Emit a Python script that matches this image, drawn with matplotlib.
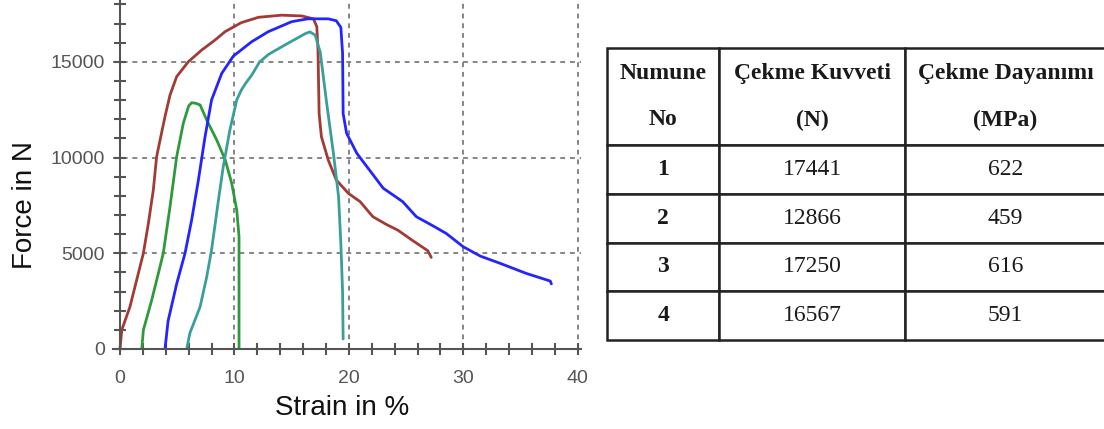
import matplotlib
matplotlib.use("Agg")
import matplotlib.pyplot as plt
from matplotlib.ticker import MultipleLocator

# Force-strain curves (strain %, force N)
s1_strain = [0, 0.15, 0.87, 1.6, 2.04, 2.48, 2.91, 3.2, 3.5, 3.93, 4.37, 4.95, 5.97, 7.14, 8.3, 9.18,
             10.6, 12.1, 14.1, 15.9, 16.9, 17.2, 17.3, 17.4, 17.6, 18.2, 18.9, 19.96, 20.98, 22.1,
             23.3, 24.3, 25.6, 26.9, 27.2]
s1_force = [0, 990, 2210, 3950, 5000, 6570, 8310, 10050, 10920, 12140, 13270, 14230, 15010, 15620, 16140,
            16580, 17050, 17330, 17441, 17400, 17250, 16840, 15620, 12300, 11090, 9870, 8830, 8130, 7700,
            6910, 6500, 6200, 5655, 5133, 4785]

s2_strain = [1.9, 2.04, 2.77, 3.35, 3.78, 4.37, 4.95, 5.53, 6.0, 6.26, 6.6, 7.0, 7.58, 8.45, 9.2, 9.76,
             10.2, 10.4, 10.4]
s2_force = [0, 990, 2560, 3950, 5000, 7440, 10050, 11790, 12700, 12866, 12840, 12750, 11960, 10920, 9870,
            8660, 7260, 5870, 0]

s3_strain = [3.93, 4.2, 4.95, 5.68, 6.26, 6.85, 7.43, 8.0, 8.89, 9.9, 11.5, 12.96, 15.0, 16.4, 18.2,
             18.9, 19.3, 19.45, 19.5, 19.8, 20.7, 21.8, 23.0, 24.7, 25.9, 27.3, 28.5, 30.0, 31.5, 33.2,
             35.5, 37.6, 37.7]
s3_force = [0, 1460, 3400, 5000, 6740, 8830, 11090, 13010, 14400, 15300, 16050, 16580, 17100, 17250,
            17250, 17150, 16800, 15450, 12300, 11270, 10220, 9350, 8400, 7700, 6910, 6450, 6040, 5340,
            4850, 4480, 3950, 3550, 3400]

s4_strain = [5.83, 6.1, 7.0, 7.58, 8.0, 8.6, 9.02, 9.6, 10.2, 10.6, 11.0, 11.5, 12.2, 13.0, 14.4, 16.2,
             16.6, 17.05, 17.5, 18.06, 18.65, 19.1, 19.3, 19.45, 19.5]
s4_force = [0, 820, 2210, 3780, 5170, 7780, 9520, 11440, 13010, 13530, 13900, 14300, 15000, 15400, 15880,
            16480, 16567, 16400, 15500, 12840, 10220, 7960, 5500, 3000, 522]

curve_colors = ["#a23a35", "#2f9a3c", "#2424ff", "#3a9e9a"]

# Table contents
col_labels = ["Numune\nNo", "Çekme Kuvveti\n(N)", "Çekme Dayanımı\n(MPa)"]
sample_no = ["1", "2", "3", "4"]
tensile_force = ["17441", "12866", "17250", "16567"]
tensile_strength = ["622", "459", "616", "591"]

fig = plt.figure(figsize=(11.04, 4.29), dpi=100)

# ---- chart ----
ax = fig.add_axes([0.1025, 0.1865, 0.4239, 0.812])
curves = [(s1_strain, s1_force), (s2_strain, s2_force), (s3_strain, s3_force), (s4_strain, s4_force)]
for (xs, ys), c in zip(curves, curve_colors):
    ax.plot(xs, ys, color=c, lw=2.0, solid_joinstyle="round", solid_capstyle="round", zorder=3)

ax.set_xlim(-0.6, 40.3)
ax.set_ylim(0, 18200)
ax.spines["left"].set_position(("data", 0))
ax.spines["top"].set_visible(False)
ax.spines["right"].set_visible(False)
for side in ["left", "bottom"]:
    ax.spines[side].set_color("#555555")
    ax.spines[side].set_linewidth(1.5)
    ax.spines[side].set_zorder(4)

ax.xaxis.set_major_locator(MultipleLocator(10))
ax.xaxis.set_minor_locator(MultipleLocator(2))
ax.yaxis.set_major_locator(MultipleLocator(5000))
ax.yaxis.set_minor_locator(MultipleLocator(1000))
ax.tick_params(which="both", direction="inout", length=8, width=1.5, color="#555555",
               labelcolor="#555555", labelsize=14)
ax.tick_params(axis="x", which="major", pad=11)
ax.tick_params(axis="y", which="major", pad=7)
for lbl in ax.get_xticklabels() + ax.get_yticklabels():
    lbl.set_fontfamily("Liberation Sans")

ax.grid(True, which="major", linestyle=(0, (2.5, 2.5)), color="#858585", linewidth=1.4, zorder=1)

ax.set_xlabel("Strain in %", fontsize=20, fontfamily="Liberation Sans", color="#111111")
ax.set_ylabel("Force in N", fontsize=20, fontfamily="Liberation Sans", color="#111111")
ax.xaxis.set_label_coords(0.489, -0.17)
ax.xaxis.label.set_va("center")
ax.yaxis.set_label_coords(-0.188, 0.413)
ax.yaxis.label.set_va("center")

# ---- table ----
tax = fig.add_axes([0.5498, 0.2075, 0.452, 0.6806])
tax.axis("off")
rows = [[n, f, s] for n, f, s in zip(sample_no, tensile_force, tensile_strength)]
tbl = tax.table(cellText=rows, colLabels=col_labels, colWidths=[112, 185, 200],
                cellLoc="center", bbox=[0, 0, 1, 1])
tbl.auto_set_font_size(False)
tbl.set_fontsize(17)
for (r, c), cell in tbl.get_celld().items():
    cell.set_height(2.0 if r == 0 else 1.0)
    cell.set_edgecolor("#222222")
    cell.set_linewidth(1.8)
    txt = cell.get_text()
    txt.set_fontfamily("Liberation Serif")
    txt.set_color("#1a1a1a")
    if r == 0 or c == 0:
        txt.set_fontweight("bold")
    if r == 0:
        txt.set_linespacing(2.6)

fig.savefig("out.png", dpi=100)
